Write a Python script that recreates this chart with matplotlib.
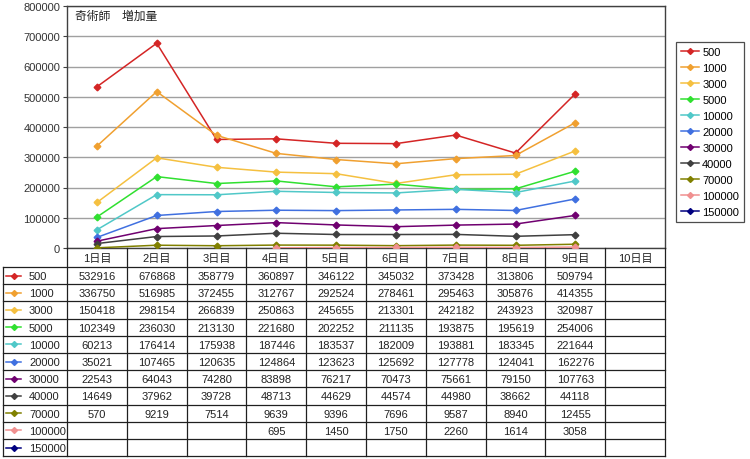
import numpy as np
import matplotlib
matplotlib.use("Agg")
import matplotlib.pyplot as plt
from matplotlib.lines import Line2D

plt.rcParams['font.family'] = ['Liberation Sans', 'Noto Sans CJK JP', 'DejaVu Sans']

days = ["1日目", "2日目", "3日目", "4日目", "5日目", "6日目", "7日目", "8日目", "9日目", "10日目"]
series_names = ["500", "1000", "3000", "5000", "10000", "20000", "30000", "40000", "70000", "100000", "150000"]
N = None
s500 = [532916, 676868, 358779, 360897, 346122, 345032, 373428, 313806, 509794, N]
s1000 = [336750, 516985, 372455, 312767, 292524, 278461, 295463, 305876, 414355, N]
s3000 = [150418, 298154, 266839, 250863, 245655, 213301, 242182, 243923, 320987, N]
s5000 = [102349, 236030, 213130, 221680, 202252, 211135, 193875, 195619, 254006, N]
s10000 = [60213, 176414, 175938, 187446, 183537, 182009, 193881, 183345, 221644, N]
s20000 = [35021, 107465, 120635, 124864, 123623, 125692, 127778, 124041, 162276, N]
s30000 = [22543, 64043, 74280, 83898, 76217, 70473, 75661, 79150, 107763, N]
s40000 = [14649, 37962, 39728, 48713, 44629, 44574, 44980, 38662, 44118, N]
s70000 = [570, 9219, 7514, 9639, 9396, 7696, 9587, 8940, 12455, N]
s100000 = [N, N, N, 695, 1450, 1750, 2260, 1614, 3058, N]
s150000 = [N, N, N, N, N, N, N, N, N, N]
all_series = [s500, s1000, s3000, s5000, s10000, s20000, s30000, s40000, s70000, s100000, s150000]
colors = ['#d42525', '#f0a030', '#f5c040', '#30e030', '#50c8c8', '#4070e0',
          '#700070', '#404040', '#808000', '#f09090', '#000080']
title = "奇術師　増加量"

W, H = 750, 460
fig = plt.figure(figsize=(W / 100, H / 100), dpi=100)
L, R, T, B = 67, 665, 7, 249
ax = fig.add_axes([L / W, 1 - B / H, (R - L) / W, (B - T) / H])
ncat = len(days)
ax.set_xlim(0, ncat)
ax.set_ylim(0, 800000)
xs = np.arange(ncat) + 0.5
for name, vals, c in zip(series_names, all_series, colors):
    y = np.array([np.nan if v is None else v for v in vals], dtype=float)
    ax.plot(xs, y, color=c, lw=1.1, marker='D', ms=3.4, mfc=c, mec=c, zorder=3)
ax.set_yticks(np.arange(0, 800001, 100000))
ax.set_yticklabels([str(v) for v in range(0, 800001, 100000)], fontsize=8, color='#333333')
ax.set_xticks([])
ax.grid(axis='y', color='#a0a0a0', lw=1)
ax.set_axisbelow(True)
for sp in ax.spines.values():
    sp.set_color('#404040')
    sp.set_linewidth(1)
ax.tick_params(axis='y', length=3, width=0.8, color='#404040', pad=2)
ax.text(8 / (R - L), 1 - 10 / (B - T), title, transform=ax.transAxes, fontsize=8.5,
        ha='left', va='center', color='#222222')

# data table
tab = fig.add_axes([0, 0, 1, 1], zorder=5)
tab.set_xlim(0, W)
tab.set_ylim(H, 0)
tab.axis('off')
tab.patch.set_alpha(0)
cw = (R - L) / ncat
hdr_top, hdr_bot = B, 268
rh = 17.2
nrows = len(series_names)
bottom = hdr_bot + nrows * rh
lc = '#202020'
for i in range(ncat + 1):
    tab.plot([L + i * cw] * 2, [hdr_top, bottom], color=lc, lw=0.9)
tab.plot([3, 3], [hdr_bot, bottom], color=lc, lw=0.9)
for k in range(nrows + 1):
    yy = hdr_bot + k * rh
    tab.plot([3, R], [yy, yy], color=lc, lw=0.9)
for i, d in enumerate(days):
    tab.text(L + (i + 0.5) * cw, (hdr_top + hdr_bot) / 2 + 0.5, d, ha='center', va='center',
             fontsize=8, color='#222222')
for k, (name, vals, c) in enumerate(zip(series_names, all_series, colors)):
    yc = hdr_bot + (k + 0.5) * rh
    tab.plot([6, 21], [yc, yc], color=c, lw=1.1)
    tab.plot([13.5], [yc], marker='D', ms=3, color=c)
    tab.text(29, yc + 0.5, name, ha='left', va='center', fontsize=8, color='#222222')
    for i, v in enumerate(vals):
        if v is not None:
            tab.text(L + (i + 0.5) * cw, yc + 0.5, str(v), ha='center', va='center',
                     fontsize=8, color='#222222')

handles = [Line2D([0], [0], color=c, lw=1.1, marker='D', ms=3) for c in colors]
leg = fig.legend(handles, series_names, loc='upper left', bbox_to_anchor=(676 / W, 1 - 43 / H),
                 fontsize=8, frameon=True, fancybox=False, edgecolor='#202020',
                 handlelength=1.6, handletextpad=0.3, labelspacing=0.54,
                 borderpad=0.45, borderaxespad=0)
leg.get_frame().set_linewidth(0.9)

fig.savefig('out.png', dpi=100)
